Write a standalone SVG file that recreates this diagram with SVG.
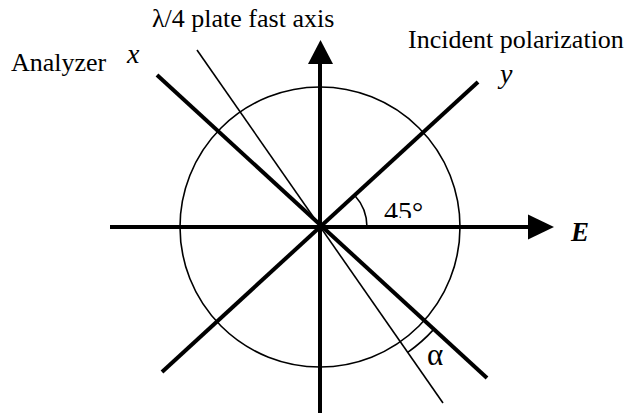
<svg xmlns="http://www.w3.org/2000/svg" width="639" height="416" viewBox="0 0 639 416">
<style>
.t{font-family:"Liberation Serif","Times New Roman",serif;font-size:26px;fill:#000}
.i{font-style:italic;font-size:28px}
.thick{stroke:#000;stroke-width:4;fill:none}
.thin{stroke:#000;stroke-width:1.6;fill:none}
</style>
<defs>
<clipPath id="clip45"><rect x="370" y="180" width="80" height="38"/></clipPath>
</defs>
<rect width="639" height="416" fill="#fff"/>
<g id="circle"><circle cx="320" cy="227" r="140" class="thin"/></g>
<g id="connectors">
<line x1="110" y1="227" x2="530" y2="227" class="thick"/>
<polygon points="554,227 528,214.5 528,239.5" fill="#000"/>
<line x1="320" y1="413" x2="320" y2="62" class="thick"/>
<polygon points="320.5,40 308,64 333,64" fill="#000"/>
<line x1="157" y1="75" x2="487" y2="378" class="thick"/>
<line x1="162" y1="372" x2="478" y2="82" class="thick"/>
<line x1="197" y1="50" x2="443" y2="403" class="thin"/>
<path d="M367,227 A47,47 0 0 0 354.6,195.2" class="thin"/>
<path d="M433.5,329.6 A153,153 0 0 1 407.7,352.3" class="thin"/>
</g>
<g id="labels">
<text x="152" y="27" class="t">λ/4 plate fast axis</text>
<text x="11" y="71" class="t">Analyzer</text>
<text x="127" y="63" class="t i">x</text>
<text x="408" y="48" class="t">Incident polarization</text>
<text x="500" y="83" class="t i">y</text>
<text x="384" y="221" class="t" style="font-size:28px" clip-path="url(#clip45)">45°</text>
<text x="571" y="241" class="t i" style="font-weight:bold;font-size:27px">E</text>
<text x="427" y="365" class="t" style="font-size:31px">α</text>
</g>
</svg>
